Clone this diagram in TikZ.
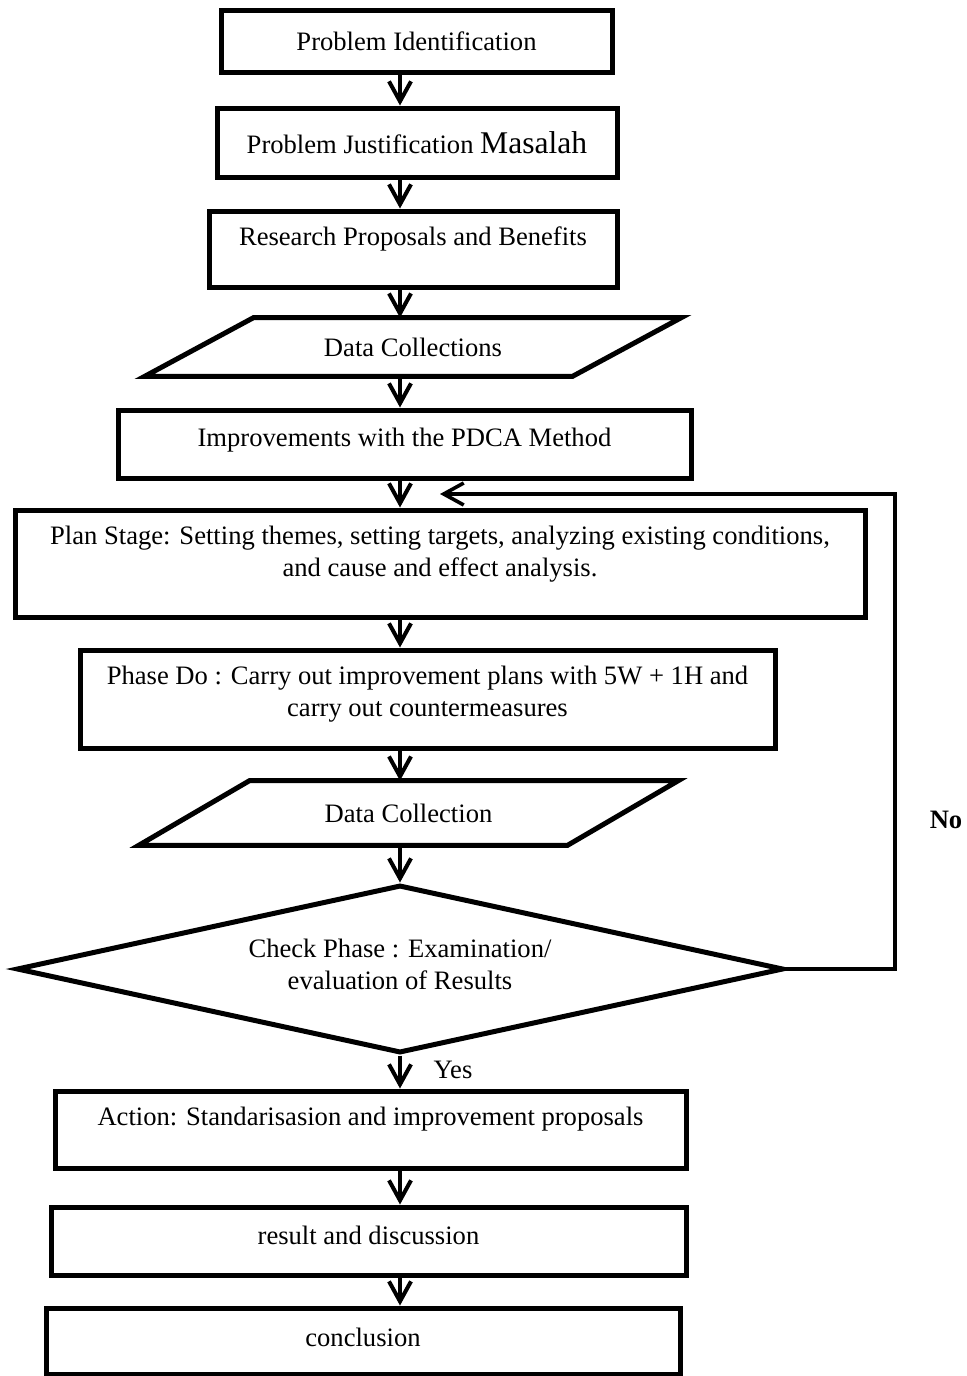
\documentclass[tikz,border=0pt]{standalone}
\usepackage{fontspec}
\setmainfont{Liberation Serif}
\usetikzlibrary{arrows.meta,shapes.geometric}
\newcommand{\boxlift}[1]{\rule[-#1]{0pt}{0pt}}
\tikzset{
  box/.style={draw,line width=2.5pt,rectangle,inner sep=0pt,align=center},
  para/.style={inner sep=0pt,align=center},
  border/.style={line width=2.5pt,line join=miter},
  decision/.style={draw,line width=2.5pt,diamond,aspect=4.5,inner sep=0pt,align=center},
  flow/.style={line width=2pt,-{Straight Barb[length=10pt,width=11pt]}},
  backflow/.style={line width=1.8pt,-{Straight Barb[length=10pt,width=11pt]}}
}

\begin{document}
\begin{tikzpicture}[x=0.5pt,y=-0.5pt,font=\fontsize{13.3pt}{16pt}\selectfont]
\path[use as bounding box] (0,0) rectangle (966,1376);
\coordinate (spine) at (400,0);
% opening steps
\node[box,minimum width=195.5pt,minimum height=31pt] (ident) at (416.5,41) {Problem Identification};
\node[box,minimum width=200pt,minimum height=34.5pt] (justif) at (417,142.5) {Problem Justification {\fontsize{15.8pt}{18pt}\selectfont Masalah}};
\node[box,minimum width=204pt,minimum height=38pt] (proposal) at (413,249) {Research Proposals and Benefits\boxlift{13pt}};
\node[para,minimum width=213.5pt,minimum height=29pt] (collect1) at (413,347) {Data Collections};
\draw[border] ([xshift=27.25pt]collect1.north west) -- ([xshift=27.25pt]collect1.north east) -- ([xshift=-27.25pt]collect1.south east) -- ([xshift=-27.25pt]collect1.south west) -- cycle;
\node[box,minimum width=286.5pt,minimum height=34pt] (pdca) at (404.5,444) {Improvements with the PDCA Method\boxlift{7pt}};
% PDCA cycle
\node[box,minimum width=425pt,minimum height=53.5pt] (plan) at (440,563.5) {Plan Stage: Setting themes, setting targets, analyzing existing conditions,\\and cause and effect analysis.\boxlift{12.5pt}};
\node[box,minimum width=347.5pt,minimum height=49pt] (do) at (427.5,699) {Phase Do : Carry out improvement plans with 5W + 1H and\\carry out countermeasures\boxlift{8pt}};
\node[para,minimum width=214pt,minimum height=32pt] (collect2) at (408.5,813) {Data Collection};
\draw[border] ([xshift=27.75pt]collect2.north west) -- ([xshift=27.75pt]collect2.north east) -- ([xshift=-27.75pt]collect2.south east) -- ([xshift=-27.75pt]collect2.south west) -- cycle;
\node[decision,minimum width=383.5pt,minimum height=84pt] (check) at (400,969) {Check Phase : Examination/\\evaluation of Results\boxlift{5pt}};
\node[box,minimum width=315.5pt,minimum height=38.5pt] (act) at (370.5,1129.5) {Action: Standarisasion and improvement proposals\boxlift{13.4pt}};
% closing steps
\node[box,minimum width=317.5pt,minimum height=34pt] (result) at (368.5,1241) {result and discussion\boxlift{6pt}};
\node[box,minimum width=317pt,minimum height=33pt] (concl) at (363,1341) {conclusion\boxlift{4pt}};
\node (no) at (946,820) {\textbf{No}};
\node (yes) at (453,1070) {Yes};
% arrows
\draw[flow] (spine |- ident.south) -- (spine |- justif.north);
\draw[flow] (spine |- justif.south) -- (spine |- proposal.north);
\draw[flow] (spine |- proposal.south) -- (spine |- collect1.north);
\draw[flow] (spine |- collect1.south) -- (spine |- pdca.north);
\draw[flow] (spine |- pdca.south) -- (spine |- plan.north);
\draw[flow] (spine |- plan.south) -- (spine |- do.north);
\draw[flow] (spine |- do.south) -- (spine |- collect2.north);
\draw[flow] (spine |- collect2.south) -- (check.north);
\draw[flow] (check.south) -- (spine |- act.north);
\draw[flow] (spine |- act.south) -- (spine |- result.north);
\draw[flow] (spine |- result.south) -- (spine |- concl.north);
% loop back when the check fails
\coordinate (turn) at (895,494);
\coordinate (back) at (440,494);
\draw[backflow] (check.east) -| (turn) -- (back);
\end{tikzpicture}
\end{document}
